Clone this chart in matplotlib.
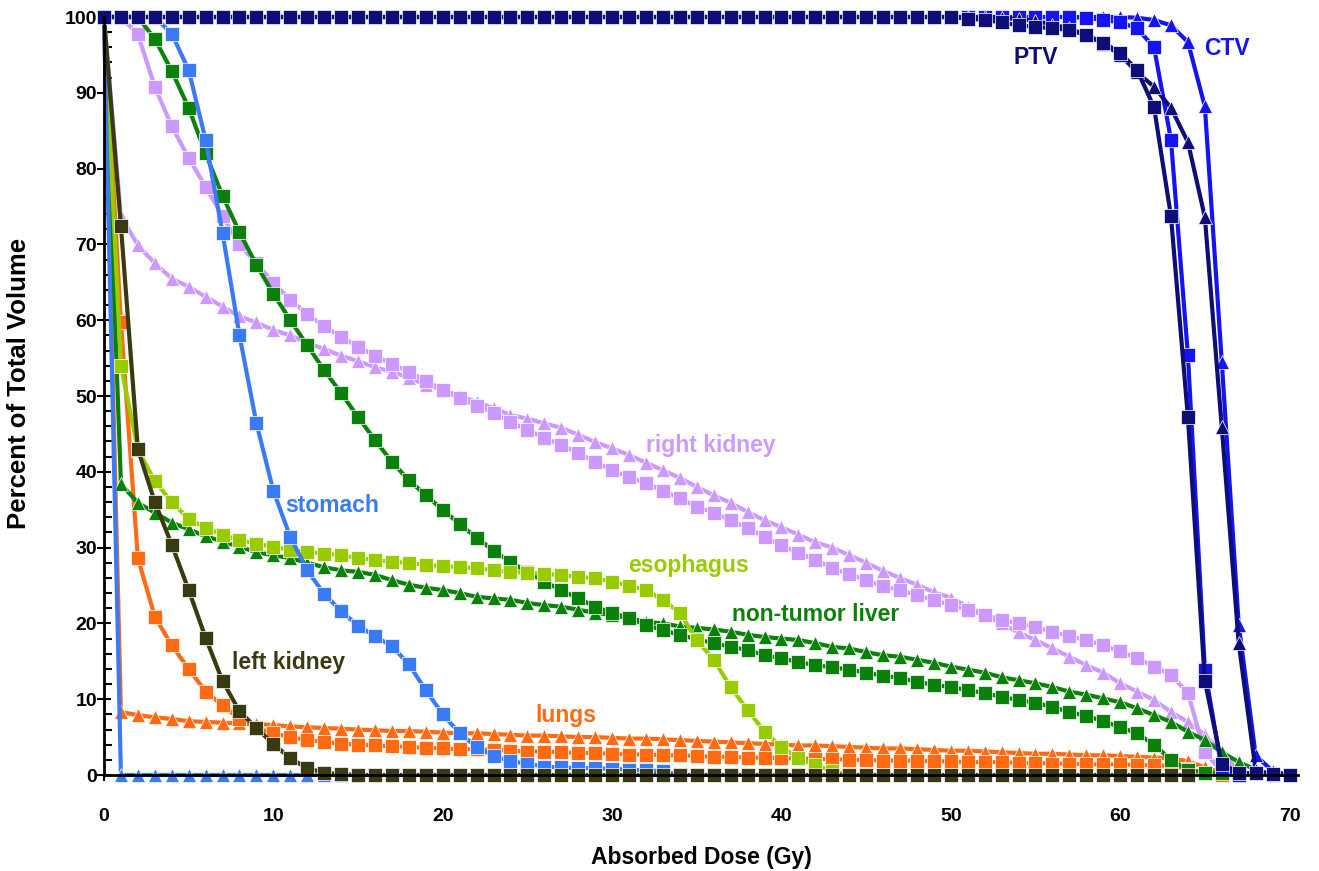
import numpy as np
import matplotlib
matplotlib.use("Agg")
import matplotlib.pyplot as plt
from matplotlib.ticker import MultipleLocator

# ---------------- data (percent of total volume vs dose, 1 Gy steps) -------------
dose = np.arange(0, 71)

stomach_sq = [100, 100, 100, 100, 97.8, 93, 83.8, 71.5, 58, 46.4, 37.5, 31.4, 27, 23.9, 21.6,
              19.7, 18.3, 17, 14.6, 11.2, 8, 5.5, 3.7, 2.5, 1.8, 1.5, 1.1, 1.0, 0.9, 0.9, 0.8,
              0.7, 0.6, 0.5, 0]
stomach_tri = [100, 0, 0, 0, 0, 0, 0, 0, 0, 0, 0, 0, 0, 0, 0, 0]

left_kidney_sq = [100, 72.4, 43, 36, 30.4, 24.4, 18.1, 12.4, 8.4, 6.2, 4.1, 2.2, 0.9, 0.3, 0.1,
                  0, 0, 0, 0, 0, 0, 0, 0, 0, 0, 0, 0, 0, 0, 0, 0, 0, 0, 0, 0, 0, 0, 0, 0, 0,
                  0, 0, 0, 0, 0, 0, 0, 0, 0, 0, 0, 0, 0, 0, 0, 0, 0, 0, 0, 0, 0, 0, 0, 0, 0]

lungs_sq = [100, 59.8, 28.6, 20.9, 17.1, 14.0, 11.0, 9.2, 7.4, 6.2, 5.5, 5.0, 4.6, 4.4, 4.1,
            4.0, 3.9, 3.8, 3.7, 3.6, 3.5, 3.4, 3.4, 3.3, 3.2, 3.1, 3.1, 3.0, 2.9, 2.9, 2.8,
            2.7, 2.7, 2.6, 2.6, 2.5, 2.4, 2.4, 2.3, 2.3, 2.2, 2.2, 2.1, 2.1, 2.0, 2.0, 1.9,
            1.9, 1.9, 1.8, 1.8, 1.7, 1.7, 1.7, 1.6, 1.6, 1.5, 1.5, 1.4, 1.4, 1.4, 1.3, 1.3,
            1.2, 0.8, 0.2, 0]
lungs_tri = [100, 8.3, 7.9, 7.6, 7.4, 7.1, 7.0, 6.9, 6.8, 6.7, 6.6, 6.4, 6.3, 6.2, 6.1, 6.0,
             5.9, 5.8, 5.8, 5.7, 5.6, 5.5, 5.5, 5.4, 5.3, 5.2, 5.2, 5.1, 5.0, 5.0, 4.9, 4.8,
             4.8, 4.7, 4.6, 4.5, 4.4, 4.3, 4.2, 4.1, 4.0, 3.9, 3.9, 3.8, 3.7, 3.6, 3.5, 3.5,
             3.4, 3.3, 3.2, 3.2, 3.1, 3.0, 2.9, 2.8, 2.8, 2.7, 2.6, 2.6, 2.5, 2.4, 2.3, 2.2,
             1.8, 1.0, 0.3, 0]

esophagus_sq = [100, 54, 42.9, 38.8, 36, 33.8, 32.6, 31.7, 31.0, 30.5, 30.1, 29.7, 29.4, 29.2,
                29.0, 28.6, 28.4, 28.1, 28.0, 27.7, 27.6, 27.4, 27.3, 27.0, 26.8, 26.7, 26.5,
                26.4, 26.1, 26.0, 25.5, 25.0, 24.4, 23.1, 21.4, 17.8, 15.2, 11.6, 8.6, 5.7,
                3.7, 2.2, 1.3, 0.5, 0]

liver_sq = [100, 100, 100, 97.1, 92.9, 88, 82, 76.4, 71.6, 67.3, 63.5, 60, 56.7, 53.4, 50.4,
            47.2, 44.2, 41.3, 38.9, 36.9, 35, 33.1, 31.3, 29.6, 28.1, 26.8, 25.5, 24.4, 23.3,
            22.2, 21.4, 20.7, 19.8, 19.1, 18.5, 17.9, 17.4, 16.9, 16.5, 15.8, 15.4, 14.9,
            14.5, 14.2, 13.9, 13.5, 13.1, 12.8, 12.3, 11.9, 11.6, 11.2, 10.8, 10.3, 9.9, 9.5,
            9.0, 8.3, 7.8, 7.1, 6.3, 5.5, 4.0, 2.0, 0.7, 0.3, 0.2, 0]
liver_tri = [100, 38.4, 35.9, 34.6, 33.3, 32.4, 31.5, 30.8, 30.1, 29.4, 29.0, 28.6, 28.0, 27.4,
             27.0, 26.8, 26.4, 25.7, 25.1, 24.7, 24.4, 24.0, 23.5, 23.3, 23.1, 22.7, 22.4,
             22.2, 21.8, 21.4, 21.1, 20.7, 20.2, 20.0, 19.6, 19.4, 19.2, 18.9, 18.5, 18.2,
             18.0, 17.8, 17.4, 16.9, 16.7, 16.2, 15.8, 15.6, 15.2, 14.8, 14.3, 13.9, 13.5,
             12.9, 12.5, 12.1, 11.6, 11.0, 10.6, 10.1, 9.6, 8.8, 7.9, 7.0, 5.7, 4.6, 3.0,
             1.7, 0.7, 0]

rkidney_sq = [100, 100, 97.7, 90.8, 85.6, 81.4, 77.6, 73.7, 70.0, 67.5, 64.9, 62.7, 60.8, 59.2,
              57.8, 56.5, 55.3, 54.2, 53.2, 52.0, 50.8, 49.7, 48.7, 47.8, 46.6, 45.5, 44.5,
              43.5, 42.5, 41.3, 40.2, 39.3, 38.5, 37.5, 36.5, 35.4, 34.6, 33.6, 32.6, 31.4,
              30.3, 29.3, 28.4, 27.3, 26.5, 25.7, 24.9, 24.4, 23.7, 23.1, 22.4, 21.8, 21.1,
              20.5, 20.0, 19.5, 18.9, 18.3, 17.8, 17.1, 16.3, 15.4, 14.3, 13.2, 10.8, 3.0, 0.5]
rkidney_tri = [100, 73.7, 69.9, 67.5, 65.5, 64.4, 63.1, 61.8, 60.5, 59.7, 58.7, 58.0, 57.0,
               56.2, 55.3, 54.6, 53.8, 53.2, 52.4, 51.5, 50.8, 50.0, 49.2, 48.4, 47.5, 47.0,
               46.4, 45.8, 44.9, 43.9, 43.1, 42.2, 41.2, 40.2, 39.2, 38.0, 36.9, 35.9, 34.7,
               33.6, 32.7, 31.7, 30.7, 30.0, 29.0, 28.0, 26.9, 26.0, 25.1, 24.1, 23.4, 22.2,
               21.1, 20.0, 18.8, 17.8, 16.7, 15.6, 14.5, 13.5, 12.1, 11.0, 9.9, 8.3, 7.0, 5.3,
               2.9, 0.5]

ptv_sq = [100, 100, 100, 100, 100, 100, 100, 100, 100, 100, 100, 100, 100, 100, 100, 100, 100,
          100, 100, 100, 100, 100, 100, 100, 100, 100, 100, 100, 100, 100, 100, 100, 100, 100,
          100, 100, 100, 100, 100, 100, 100, 100, 100, 100, 100, 100, 100, 100, 100, 100, 100,
          99.8, 99.6, 99.3, 98.9, 98.7, 98.5, 98.3, 97.6, 96.6, 95.3, 93.0, 88.1, 73.7, 47.2,
          12.4, 1.5, 0.3, 0.2, 0.1, 0]
ptv_tri = [100, 100, 100, 100, 100, 100, 100, 100, 100, 100, 100, 100, 100, 100, 100, 100, 100,
           100, 100, 100, 100, 100, 100, 100, 100, 100, 100, 100, 100, 100, 100, 100, 100, 100,
           100, 100, 100, 100, 100, 100, 100, 100, 100, 100, 100, 100, 100, 100, 100, 100, 100,
           100, 100, 99.9, 99.7, 99.5, 99.0, 98.5, 97.6, 96.5, 95.0, 92.7, 90.8, 88.0, 83.5,
           73.6, 45.9, 17.4, 0.6, 0.1, 0]

ctv_sq = [100, 100, 100, 100, 100, 100, 100, 100, 100, 100, 100, 100, 100, 100, 100, 100, 100,
          100, 100, 100, 100, 100, 100, 100, 100, 100, 100, 100, 100, 100, 100, 100, 100, 100,
          100, 100, 100, 100, 100, 100, 100, 100, 100, 100, 100, 100, 100, 100, 100, 100, 100,
          100, 100, 100, 100, 100, 100, 100, 99.9, 99.6, 99.3, 98.5, 96.0, 83.8, 55.4, 13.9,
          0.8, 0]
ctv_tri = [100, 100, 100, 100, 100, 100, 100, 100, 100, 100, 100, 100, 100, 100, 100, 100, 100,
           100, 100, 100, 100, 100, 100, 100, 100, 100, 100, 100, 100, 100, 100, 100, 100, 100,
           100, 100, 100, 100, 100, 100, 100, 100, 100, 100, 100, 100, 100, 100, 100, 100, 100,
           100, 100, 100, 100, 100, 100, 100, 100, 100, 100, 99.9, 99.6, 98.9, 96.7, 88.2, 54.5,
           19.8, 2.6, 0.5, 0]

labels = ["PTV", "CTV", "right kidney", "stomach", "esophagus", "non-tumor liver",
          "left kidney", "lungs"]
label_x = [55.0, 66.3, 35.8, 13.5, 34.5, 42.0, 10.9, 27.3]
label_y = [94.6, 95.9, 43.5, 35.6, 27.7, 21.2, 14.8, 7.8]

colors = {
    "PTV": "#0E0E78",
    "CTV": "#1414F2",
    "right kidney": "#CC99FF",
    "stomach": "#3A7BF5",
    "esophagus": "#99CC00",
    "non-tumor liver": "#0B800B",
    "left kidney": "#3A3A12",
    "lungs": "#FF6A13",
}

# ---------------- plotting ----------------
plt.rcParams['font.family'] = ['Liberation Sans', 'DejaVu Sans']
plt.rcParams['font.weight'] = 'bold'

fig = plt.figure(figsize=(13.19, 8.71), dpi=100)
ax = fig.add_axes([104 / 1319, 1 - 775 / 871, (1298 - 104) / 1319, (775 - 17) / 871])

series = [
    (rkidney_tri, "right kidney", "^"),
    (rkidney_sq, "right kidney", "s"),
    (lungs_tri, "lungs", "^"),
    (lungs_sq, "lungs", "s"),
    (liver_tri, "non-tumor liver", "^"),
    (liver_sq, "non-tumor liver", "s"),
    (esophagus_sq, "esophagus", "s"),
    (stomach_tri, "stomach", "^"),
    (stomach_sq, "stomach", "s"),
    (left_kidney_sq, "left kidney", "s"),
    (ctv_tri, "CTV", "^"),
    (ctv_sq, "CTV", "s"),
    (ptv_tri, "PTV", "^"),
    (ptv_sq, "PTV", "s"),
]

for vals, name, mk in series:
    x = dose[:len(vals)]
    ms = 9.6 if mk == "s" else 10.5
    ax.plot(x, vals, color=colors[name], lw=3.0, marker=mk, ms=ms,
            mec="white", mew=0.5, clip_on=False, solid_joinstyle="round")

for t, tx, ty in zip(labels, label_x, label_y):
    ax.text(tx, ty, t, color=colors[t], fontsize=16.5, fontweight="bold",
            ha="center", va="center")

ax.set_xlim(0, 70.5)
ax.set_ylim(0, 100)
ax.xaxis.set_major_locator(MultipleLocator(10))
ax.yaxis.set_major_locator(MultipleLocator(10))
ax.yaxis.set_minor_locator(MultipleLocator(2))

for s in ["top", "right"]:
    ax.spines[s].set_visible(False)
for s in ["left", "bottom"]:
    ax.spines[s].set_linewidth(2.0)
    ax.spines[s].set_color("black")

ax.tick_params(axis="x", which="major", direction="out", length=4, width=1.5,
               pad=20, labelsize=14)
ax.tick_params(axis="y", which="major", direction="inout", length=10, width=1.5,
               pad=0, labelsize=14)
ax.tick_params(axis="y", which="minor", direction="in", length=6, width=1.5)
for lab in ax.get_xticklabels() + ax.get_yticklabels():
    lab.set_fontweight("bold")

ax.set_xlabel("Absorbed Dose (Gy)", fontsize=16.5, fontweight="bold", labelpad=15)
ax.set_ylabel("Percent of Total Volume", fontsize=18.5, fontweight="bold")
ax.yaxis.set_label_coords(-0.061, 0.517)

fig.savefig("out.png", dpi=100)
